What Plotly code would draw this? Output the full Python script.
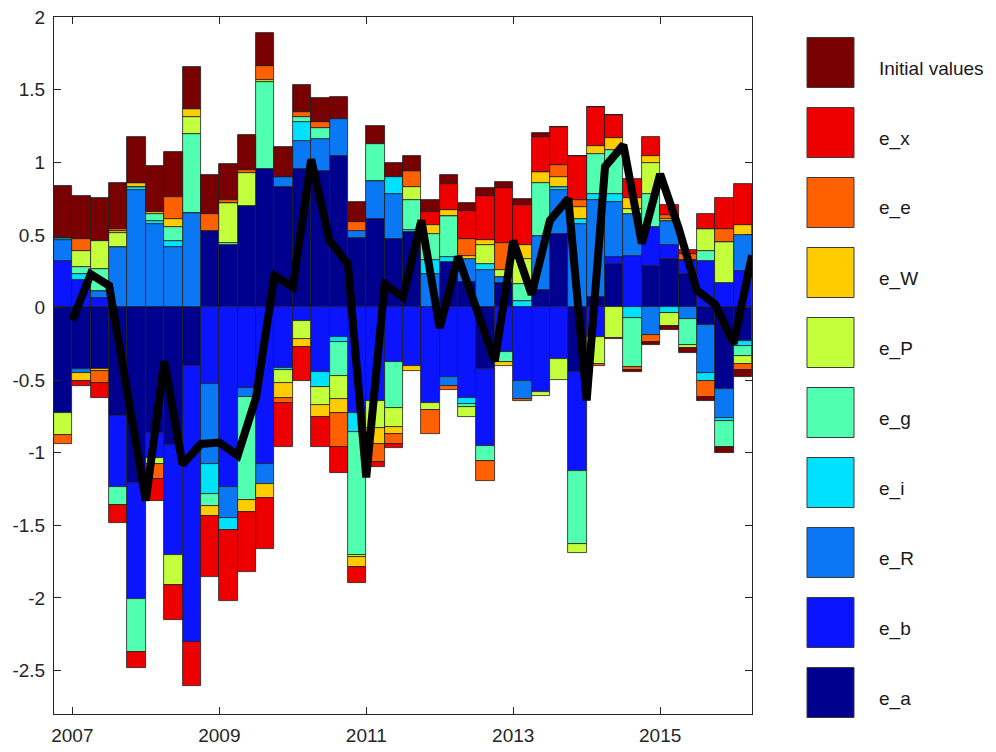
import plotly.graph_objects as go

# ---------------- data ----------------
quarters = ["2006Q4",
            "2007Q1", "2007Q2", "2007Q3", "2007Q4",
            "2008Q1", "2008Q2", "2008Q3", "2008Q4",
            "2009Q1", "2009Q2", "2009Q3", "2009Q4",
            "2010Q1", "2010Q2", "2010Q3", "2010Q4",
            "2011Q1", "2011Q2", "2011Q3", "2011Q4",
            "2012Q1", "2012Q2", "2012Q3", "2012Q4",
            "2013Q1", "2013Q2", "2013Q3", "2013Q4",
            "2014Q1", "2014Q2", "2014Q3", "2014Q4",
            "2015Q1", "2015Q2", "2015Q3", "2015Q4",
            "2016Q1"]

e_a = [-0.730, -0.426, -0.426, -0.748, -1.207, -0.862, -0.947, -0.401, 0.526, 0.427,
       0.699, 0.957, 0.830, 0.952, 0.940, 1.044, 0.478, 0.610, 0.473, 0.520,
       0.000, 0.310, 0.174, -0.424, 0.167, 0.000, 0.122, 0.508, -0.447, 0.071,
       0.300, 0.000, 0.289, 0.335, 0.230, -0.120, -0.564, -0.233]
e_b = [0.320, 0.186, 0.066, -0.490, -0.800, -0.173, -0.755, -1.904, -0.528, -1.237,
       -0.555, -1.080, -0.420, -0.090, -0.447, -0.206, -0.724, -0.643, -0.378, -0.401,
       -0.655, -0.481, -0.621, -0.530, -0.309, -0.505, -0.585, -0.356, -0.679, -0.200,
       0.046, 0.357, 0.265, 0.092, 0.100, 0.319, 0.167, 0.250]
e_R = [0.147, -0.025, 0.050, 0.416, 0.812, 0.577, 0.420, 0.653, -0.552, -0.212,
       -0.060, -0.134, 0.069, 0.196, 0.219, 0.253, 0.048, 0.260, 0.306, 0.000,
       0.232, -0.058, 0.161, 0.260, 0.046, -0.127, 0.368, 0.300, 0.577, 0.668,
       0.380, 0.288, -0.190, 0.168, -0.081, -0.329, -0.200, 0.246]
e_i = [0.014, 0.046, 0.000, 0.000, 0.018, 0.018, 0.041, 0.000, -0.203, -0.087,
       0.000, 0.000, -0.012, 0.127, -0.104, -0.035, -0.131, 0.000, 0.120, 0.016,
       0.092, 0.035, -0.041, 0.041, 0.000, 0.048, 0.000, 0.023, 0.035, 0.041,
       0.058, -0.069, 0.000, -0.041, 0.000, -0.058, -0.018, -0.030]
e_g = [0.000, 0.046, 0.150, -0.120, -0.366, 0.046, 0.093, 0.541, -0.085, 0.018,
       -0.711, 0.594, 0.000, 0.039, 0.074, -0.230, -0.847, 0.258, -0.311, 0.207,
       0.180, 0.288, -0.023, -0.104, -0.069, 0.115, 0.368, 0.000, -0.502, 0.276,
       0.304, -0.341, 0.230, 0.000, -0.177, 0.069, -0.177, -0.069]
e_P = [-0.150, 0.108, 0.190, 0.097, 0.000, -0.041, -0.212, 0.120, 0.000, 0.274,
       0.230, 0.016, -0.085, -0.127, -0.122, -0.161, -0.018, -0.184, -0.134, 0.087,
       -0.053, 0.000, -0.072, 0.127, 0.046, 0.173, -0.025, -0.145, -0.062, -0.189,
       -0.207, 0.035, 0.212, -0.085, -0.018, 0.154, 0.283, -0.058]
e_W = [0.000, -0.058, -0.012, 0.015, 0.028, 0.016, 0.058, 0.051, -0.069, 0.000,
       -0.083, -0.097, -0.104, -0.053, -0.081, -0.097, -0.067, -0.110, -0.051, -0.039,
       0.062, 0.039, 0.023, 0.039, -0.023, 0.097, 0.076, 0.069, 0.081, 0.055,
       0.081, 0.076, 0.046, 0.016, 0.000, 0.000, 0.000, 0.069]
e_e = [-0.058, 0.087, -0.080, 0.016, 0.000, -0.108, 0.150, 0.000, 0.115, 0.018,
       0.016, 0.097, -0.035, 0.035, 0.046, -0.230, 0.062, -0.124, -0.064, 0.108,
       -0.161, -0.030, 0.115, -0.134, 0.184, -0.012, 0.000, 0.081, 0.046, -0.015,
       -0.010, -0.023, -0.051, 0.023, 0.035, -0.108, 0.092, -0.039]
e_x = [0.000, -0.035, -0.104, -0.127, -0.110, -0.150, -0.237, -0.299, -0.421, -0.488,
       -0.414, -0.352, -0.304, -0.239, -0.205, -0.180, -0.111, -0.035, -0.028, 0.000,
       0.092, 0.180, 0.191, 0.300, 0.380, 0.276, 0.242, 0.260, 0.306, 0.272,
       0.157, 0.131, 0.131, 0.069, 0.030, 0.099, 0.214, 0.283]
initial_values = [0.355, 0.292, 0.295, 0.313, 0.318, 0.318, 0.311, 0.290, 0.274, 0.253,
                  0.242, 0.226, 0.203, 0.184, 0.161, 0.150, 0.138, 0.122, 0.099, 0.106,
                  0.080, 0.064, 0.058, 0.053, 0.039, 0.037, 0.023, 0.005, 0.000, 0.000,
                  0.000, -0.012, -0.018, -0.030, -0.039, -0.030, -0.046, -0.048]

# observed series (black line)
observed = [-0.09, 0.23, 0.15, -0.62, -1.33, -0.37, -1.08, -0.94, -0.93, -1.02,
            -0.62, 0.22, 0.14, 1.02, 0.46, 0.30, -1.17, 0.16, 0.07, 0.60,
            -0.14, 0.35, 0.00, -0.37, 0.46, 0.09, 0.60, 0.75, -0.64, 0.97,
            1.12, 0.44, 0.92, 0.55, 0.12, 0.02, -0.25, 0.36]

series_names = ["e_a", "e_b", "e_R", "e_i", "e_g", "e_P", "e_W", "e_e", "e_x", "Initial values"]
series_values = [e_a, e_b, e_R, e_i, e_g, e_P, e_W, e_e, e_x, initial_values]
series_colors = ["#00008F", "#0A14FF", "#0A78F5", "#00E0FF", "#50FFB0",
                 "#C4FF3C", "#FFCC00", "#FF6000", "#EE0000", "#780000"]

x_tick_vals = [2007, 2009, 2011, 2013, 2015]
x_tick_text = ["2007", "2009", "2011", "2013", "2015"]
y_tick_vals = [-2.5, -2, -1.5, -1, -0.5, 0, 0.5, 1, 1.5, 2]
y_tick_text = ["-2.5", "-2", "-1.5", "-1", "-0.5", "0", "0.5", "1", "1.5", "2"]


def qpos(label, offset):
    year = int(label[:4])
    q = int(label[5])
    return year + (q - offset) / 4.0


bar_x = [qpos(s, 0.5) for s in quarters]   # mid-quarter
line_x = [qpos(s, 0.0) for s in quarters]  # end of quarter

# ---------------- figure ----------------
# The page body adds an 8 px margin, so the figure is sized/placed to compensate.
PAGE_OFF = 8
W, H = 996 - PAGE_OFF, 752 - PAGE_OFF
ML, MT = 54 - PAGE_OFF, 17 - PAGE_OFF
MR, MB = 244, 38
AXC = "#262626"
FONT = "Liberation Sans, Arial, Helvetica, sans-serif"

fig = go.Figure()
for name, vals, col in zip(series_names, series_values, series_colors):
    fig.add_trace(go.Bar(
        x=bar_x, y=vals, name=name, width=0.25,
        marker=dict(color=col, line=dict(color="#1e1e1e", width=0.8)),
        showlegend=False,
    ))

fig.add_trace(go.Scatter(
    x=line_x, y=observed, mode="lines", name="Observed",
    line=dict(color="black", width=8), showlegend=False,
))

axis_common = dict(
    showline=True, linecolor=AXC, linewidth=1, mirror="ticks",
    ticks="inside", ticklen=7, tickcolor=AXC, tickwidth=1,
    showgrid=False, zeroline=False, automargin=False,
    tickfont=dict(family=FONT, size=19, color=AXC),
)

fig.update_layout(
    width=W, height=H,
    margin=dict(l=ML, r=MR, t=MT, b=MB, autoexpand=False),
    barmode="relative", bargap=0,
    plot_bgcolor="white", paper_bgcolor="white",
    font=dict(family=FONT, size=19, color=AXC),
    xaxis=dict(range=[2006.75, 2016.25], tickvals=x_tick_vals, ticktext=x_tick_text,
               ticklabelstandoff=4, **axis_common),
    yaxis=dict(range=[-2.8, 2.0008], tickvals=y_tick_vals, ticktext=y_tick_text,
               ticklabelstandoff=4, ticklabeloverflow="allow", **axis_common),
)

# ---------------- custom legend (large boxes as in the original) ----------------
plot_w = W - ML - MR
plot_h = H - MT - MB


def px_to_paper_x(px):
    return (px - PAGE_OFF - ML) / plot_w


def px_to_paper_y(py):
    return 1 - (py - PAGE_OFF - MT) / plot_h


box_left, box_right = 807, 854
box_top0, box_h, box_step = 37.5, 50, 70
label_x = 877

for i, (name, col) in enumerate(zip(series_names[::-1], series_colors[::-1])):
    top = box_top0 + i * box_step
    fig.add_shape(
        type="rect", xref="paper", yref="paper",
        x0=px_to_paper_x(box_left), x1=px_to_paper_x(box_right),
        y0=px_to_paper_y(top + box_h), y1=px_to_paper_y(top),
        fillcolor=col, line=dict(color="#3a3a3a", width=1),
    )
    fig.add_annotation(
        xref="paper", yref="paper",
        x=px_to_paper_x(label_x), y=px_to_paper_y(top + box_h / 2 + 6),
        text=name, showarrow=False, xanchor="left", yanchor="middle",
        font=dict(family=FONT, size=19, color="#1a1a1a"),
    )

fig.write_html("out.html")
